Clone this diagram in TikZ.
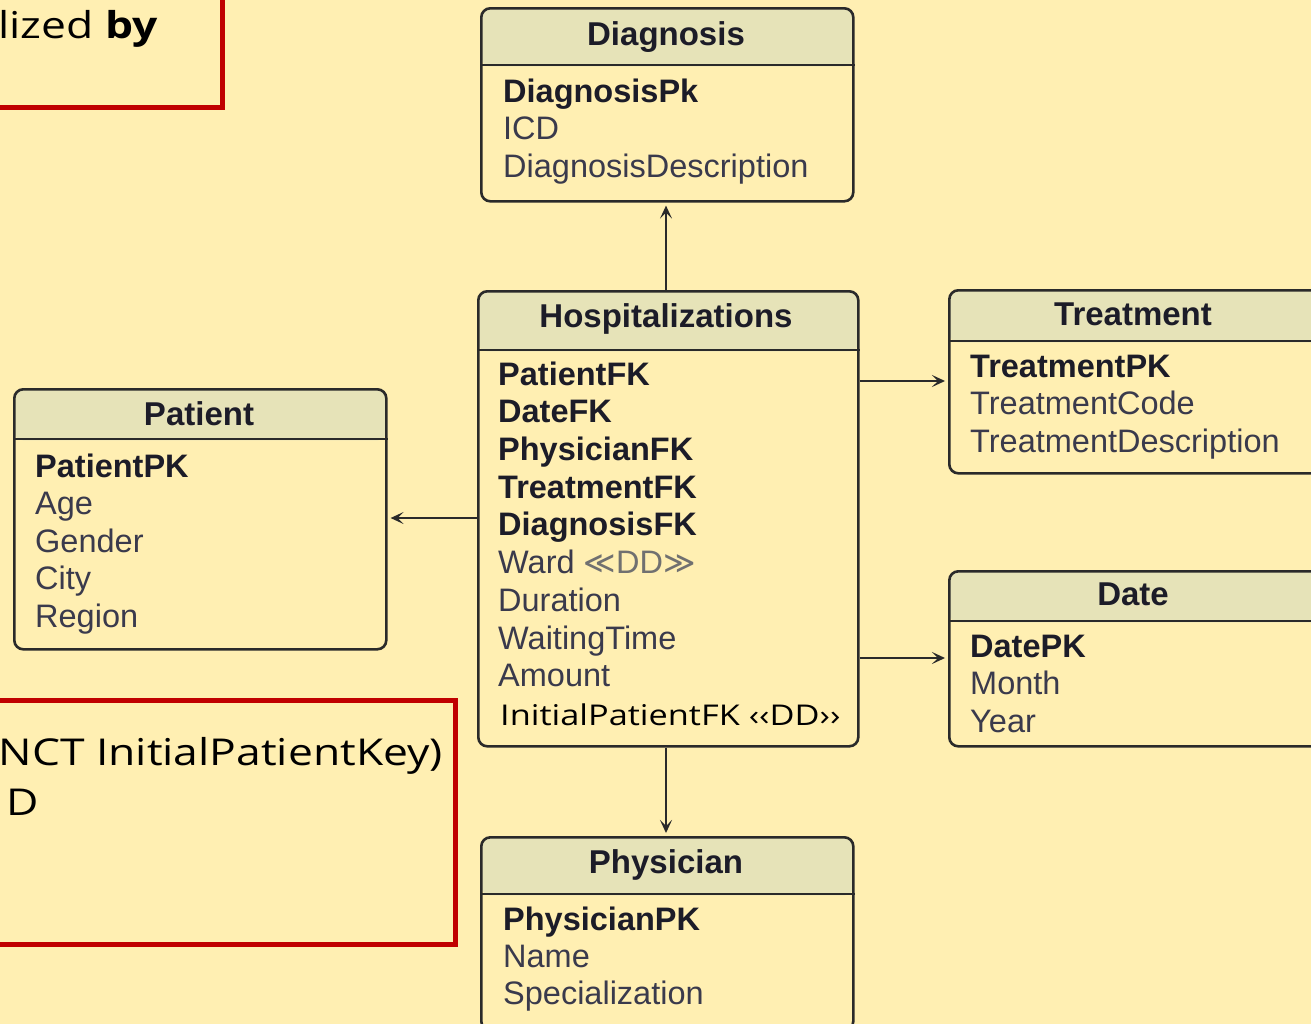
\documentclass[tikz,border=0pt]{standalone}
\usepackage{fontspec}
\setmainfont{Liberation Sans}
\newfontfamily\comic[FakeStretch=1.2]{Open Sans}
\newfontfamily\symf{DejaVu Sans}
\usetikzlibrary{arrows.meta}
\definecolor{bgc}{HTML}{FFEFB2}
\definecolor{hdrc}{HTML}{E6E3B8}
\definecolor{redc}{HTML}{C00000}
\definecolor{linec}{HTML}{2A2A2A}
\definecolor{boldc}{HTML}{1C1C28}
\definecolor{regc}{HTML}{3A3A4C}
\definecolor{ddc}{HTML}{707070}
\tikzset{
  tbl/.style={draw=linec, line width=2.6pt, rounded corners=9pt, fill=bgc, inner sep=0pt, anchor=north west,
    path picture={\fill[hdrc] (path picture bounding box.north west) rectangle ([yshift=-#1pt]path picture bounding box.north east);}},
  sepline/.style={draw=linec, line width=2.6pt},
  ttl/.style={anchor=base, inner sep=0pt, text=boldc, font=\fontsize{33}{38}\selectfont\bfseries},
  keyrow/.style={anchor=base west, inner sep=0pt, text=boldc, font=\fontsize{32.5}{38}\selectfont\bfseries},
  attrow/.style={anchor=base west, inner sep=0pt, text=regc, font=\fontsize{32.5}{38}\selectfont},
  comictext/.style={inner sep=0pt, text=black, font=\comic\fontsize{37}{42}\selectfont},
  redbox/.style={draw=redc, line width=5pt},
  conn/.style={draw=linec, line width=2.2pt, shorten >=3pt, -{Stealth[length=13pt,width=12pt,inset=6pt]}}
}
\begin{document}
\begin{tikzpicture}[x=1pt,y=-1pt]
\useasboundingbox (0,0) rectangle (1311,1023);
\clip (0,0) rectangle (1311,1023);
\fill[bgc] (-5,-5) rectangle (1320,1030);

% red note boxes
\draw[redbox] (-20,-20) rectangle (222,107);
\node[comictext, anchor=base east] (note1) at (158,38) {lized \textbf{by}};
\draw[redbox] (-20,700) rectangle (455,944);
\node[comictext, anchor=base east] (note2) at (443,765) {NCT InitialPatientKey)};
\node[comictext, anchor=base west] (note3) at (6,815) {D};

% Diagnosis
\node[tbl=58, minimum width=372, minimum height=193] (diag) at (480,7) {};
\draw[sepline] ([yshift=-58pt]diag.north west) -- ([yshift=-58pt]diag.north east);
\node[ttl] (diagT) at (666,45) {Diagnosis};
\node[keyrow] (d1) at (503,102) {DiagnosisPk};
\node[attrow] (d2) at (503,139.5) {ICD};
\node[attrow] (d3) at (503,177) {DiagnosisDescription};

% Hospitalizations
\node[tbl=60, minimum width=380, minimum height=455] (hosp) at (477,290) {};
\draw[sepline] ([yshift=-60pt]hosp.north west) -- ([yshift=-60pt]hosp.north east);
\node[ttl] (hospT) at (666,327) {Hospitalizations};
\node[keyrow] (h1) at (498,385) {PatientFK};
\node[keyrow] (h2) at (498,422.7) {DateFK};
\node[keyrow] (h3) at (498,460.4) {PhysicianFK};
\node[keyrow] (h4) at (498,498) {TreatmentFK};
\node[keyrow] (h5) at (498,535.8) {DiagnosisFK};
\node[attrow] (h6) at (498,573.5) {Ward {\color{ddc}\symf\fontsize{31}{38}\selectfont ≪}{\color{ddc}DD}{\color{ddc}\symf\fontsize{31}{38}\selectfont ≫}};
\node[attrow] (h7) at (498,611) {Duration};
\node[attrow] (h8) at (498,649) {WaitingTime};
\node[attrow] (h9) at (498,686.6) {Amount};
\node[comictext, anchor=base west, font=\comic\fontsize{28.6}{34}\selectfont] (h10) at (500,725) {InitialPatientFK ‹‹DD››};

% Treatment
\node[tbl=52, minimum width=372, minimum height=183] (treat) at (948,289) {};
\draw[sepline] ([yshift=-52pt]treat.north west) -- ([yshift=-52pt]treat.north east);
\node[ttl] (treatT) at (1133,325) {Treatment};
\node[keyrow] (t1) at (970,377) {TreatmentPK};
\node[attrow] (t2) at (970,414) {TreatmentCode};
\node[attrow] (t3) at (970,452) {TreatmentDescription};

% Date
\node[tbl=51, minimum width=372, minimum height=175] (date) at (948,570) {};
\draw[sepline] ([yshift=-51pt]date.north west) -- ([yshift=-51pt]date.north east);
\node[ttl] (dateT) at (1133,605) {Date};
\node[keyrow] (dt1) at (970,657) {DatePK};
\node[attrow] (dt2) at (970,694) {Month};
\node[attrow] (dt3) at (970,732) {Year};

% Patient
\node[tbl=51, minimum width=372, minimum height=260] (pat) at (13,388) {};
\draw[sepline] ([yshift=-51pt]pat.north west) -- ([yshift=-51pt]pat.north east);
\node[ttl] (patT) at (199,425) {Patient};
\node[keyrow] (p1) at (35,477) {PatientPK};
\node[attrow] (p2) at (35,514) {Age};
\node[attrow] (p3) at (35,552) {Gender};
\node[attrow] (p4) at (35,589) {City};
\node[attrow] (p5) at (35,627) {Region};

% Physician
\node[tbl=58, minimum width=372, minimum height=193] (phys) at (480,836) {};
\draw[sepline] ([yshift=-58pt]phys.north west) -- ([yshift=-58pt]phys.north east);
\node[ttl] (physT) at (666,873) {Physician};
\node[keyrow] (ph1) at (503,930) {PhysicianPK};
\node[attrow] (ph2) at (503,967) {Name};
\node[attrow] (ph3) at (503,1004) {Specialization};

% connectors
\coordinate (yT) at (0,381);
\coordinate (yD) at (0,658);
\coordinate (yP) at (0,518);
\coordinate (xV) at (666,0);
\draw[conn] (hosp.north -| xV) -- (diag.south -| xV);
\draw[conn] (hosp.south -| xV) -- (phys.north -| xV);
\draw[conn] (hosp.east |- yT) -- (treat.west |- yT);
\draw[conn] (hosp.east |- yD) -- (date.west |- yD);
\draw[conn] (hosp.west |- yP) -- (pat.east |- yP);
\end{tikzpicture}
\end{document}
